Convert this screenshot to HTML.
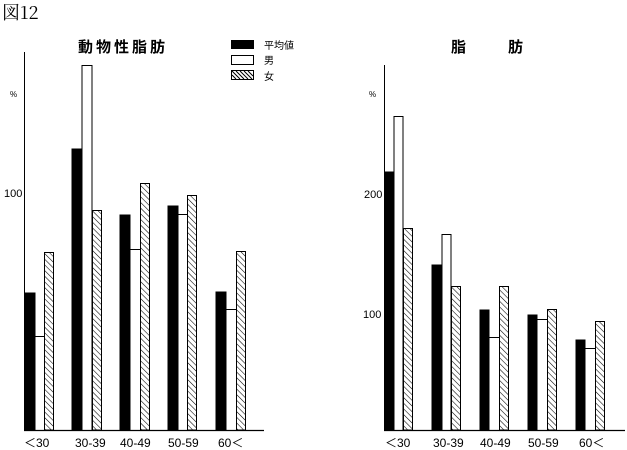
<!DOCTYPE html>
<html><head><meta charset="utf-8"><style>
html,body{margin:0;padding:0;background:#fff;}
svg{display:block;font-family:"Liberation Sans","Noto Sans CJK JP",sans-serif;}
</style></head><body>
<svg width="627" height="450" viewBox="0 0 627 450" xmlns="http://www.w3.org/2000/svg">
<defs>
<pattern id="h" patternUnits="userSpaceOnUse" width="4" height="4" patternTransform="rotate(-45)">
<rect width="4" height="4" fill="#fff"/><line x1="0" y1="0" x2="0" y2="4" stroke="#000" stroke-width="1.1"/>
</pattern>
</defs>
<text x="2" y="19" font-size="18" font-family="'Noto Serif CJK SC','Liberation Serif',serif">図12</text>

<!-- left chart -->
<text x="123" y="52" font-size="15" font-weight="bold" text-anchor="middle" letter-spacing="3" font-family="'Noto Sans CJK JP',sans-serif">動物性脂肪</text>
<line x1="24.5" y1="52" x2="24.5" y2="430" stroke="#000" stroke-width="1"/>
<line x1="24" y1="430.5" x2="264" y2="430.5" stroke="#000" stroke-width="1.2"/>
<text x="10" y="97" font-size="8">%</text>
<text x="4" y="197" font-size="11">100</text>
<rect x="231" y="40" width="23" height="9" fill="#000"/>
<rect x="231.5" y="55.5" width="22" height="9" fill="#fff" stroke="#000"/>
<rect x="231.5" y="70.5" width="22" height="9" fill="#fff" stroke="#000"/>
<g stroke="#000" stroke-width="1">
<path d="M232 71L240 79M236 71L244 79M240 71L248 79M244 71L252 79M248 71L253 76M232 75L236 79"/>
</g>
<g font-size="10" font-family="'Noto Sans CJK JP',sans-serif"><text x="264" y="49">平均値</text><text x="264" y="64">男</text><text x="264" y="80">女</text></g>
<g stroke="#000" stroke-width="1">
<rect x="25" y="293" width="10" height="137" fill="#000"/>
<path d="M35 336.5H44" fill="none"/>
<rect x="44.5" y="252.5" width="9" height="177.5" fill="url(#h)"/>
<rect x="72" y="149" width="10" height="281" fill="#000"/>
<path d="M82 430V65.5H92V430" fill="none"/>
<rect x="92.5" y="210.5" width="9" height="219.5" fill="url(#h)"/>
<rect x="120" y="215" width="10" height="215" fill="#000"/>
<path d="M130 249.5H140" fill="none"/>
<rect x="140.5" y="183.5" width="9" height="246.5" fill="url(#h)"/>
<rect x="168" y="206" width="10" height="224" fill="#000"/>
<path d="M178 214.5H187" fill="none"/>
<rect x="187.5" y="195.5" width="9" height="234.5" fill="url(#h)"/>
<rect x="216" y="292" width="10" height="138" fill="#000"/>
<path d="M226 309.5H236" fill="none"/>
<rect x="236.5" y="251.5" width="9" height="178.5" fill="url(#h)"/>
</g>
<g font-size="12">
<text x="24" y="447">＜30</text><text x="75" y="447">30-39</text><text x="120" y="447">40-49</text><text x="168" y="447">50-59</text><text x="218" y="447">60＜</text>
</g>

<!-- right chart -->
<g font-size="15" font-weight="bold" font-family="'Noto Sans CJK JP',sans-serif"><text x="451" y="52">脂</text><text x="508" y="52">肪</text></g>
<line x1="384.5" y1="65" x2="384.5" y2="430" stroke="#000" stroke-width="1"/>
<line x1="384" y1="430.5" x2="625" y2="430.5" stroke="#000" stroke-width="1.2"/>
<text x="369" y="97" font-size="8">%</text>
<text x="364" y="198" font-size="11">200</text>
<text x="363" y="318" font-size="11">100</text>
<g stroke="#000" stroke-width="1">
<rect x="385" y="172" width="9" height="258" fill="#000"/>
<path d="M394 430V116.5H403V430" fill="none"/>
<rect x="403.5" y="228.5" width="9" height="201.5" fill="url(#h)"/>
<rect x="432" y="265" width="10" height="165" fill="#000"/>
<path d="M442 430V234.5H451V430" fill="none"/>
<rect x="451.5" y="286.5" width="9" height="143.5" fill="url(#h)"/>
<rect x="480" y="310" width="9" height="120" fill="#000"/>
<path d="M489 337.5H499" fill="none"/>
<rect x="499.5" y="286.5" width="9" height="143.5" fill="url(#h)"/>
<rect x="528" y="315" width="9" height="115" fill="#000"/>
<path d="M537 319.5H547" fill="none"/>
<rect x="547.5" y="309.5" width="9" height="120.5" fill="url(#h)"/>
<rect x="576" y="340" width="9" height="90" fill="#000"/>
<path d="M585 348.5H595" fill="none"/>
<rect x="595.5" y="321.5" width="9" height="108.5" fill="url(#h)"/>
</g>
<g font-size="12">
<text x="385" y="447">＜30</text><text x="433" y="447">30-39</text><text x="480" y="447">40-49</text><text x="528" y="447">50-59</text><text x="579" y="447">60＜</text>
</g>
</svg>
</body></html>
